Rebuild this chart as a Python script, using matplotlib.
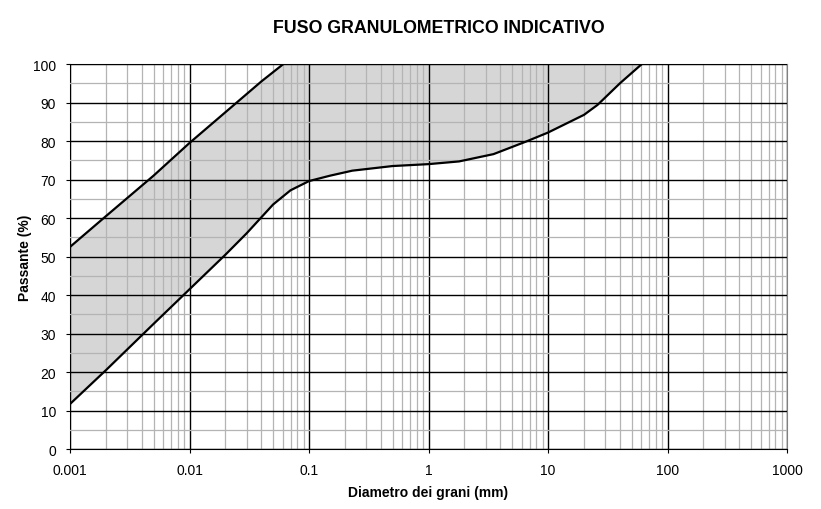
import matplotlib.pyplot as plt
import numpy as np

# upper limit of the band (diameter mm, passing %)
d_up = [0.001, 0.002, 0.005, 0.01, 0.02, 0.04, 0.061]
p_up = [52.5, 60.5, 71, 79.5, 87.5, 95.5, 100]

# lower limit of the band
d_lo = [0.001, 0.002, 0.005, 0.01, 0.02, 0.03, 0.05, 0.07, 0.1, 0.15, 0.23, 0.5, 1, 1.8,
        3.5, 6.6, 10, 20, 26, 40, 61]
p_lo = [11.7, 20.5, 32.5, 41.5, 50.5, 56, 63.5, 67.2, 69.6, 71, 72.3, 73.5, 74, 74.7,
        76.6, 79.9, 82.2, 86.8, 89.4, 95, 100]

plt.rcParams['font.family'] = ['Liberation Sans', 'DejaVu Sans']

fig = plt.figure(figsize=(8.21, 5.10), dpi=100)
ax = fig.add_axes([0.0853, 0.1176, 0.8733, 0.7549])

ax.set_xscale('log')
ax.set_xlim(0.001, 1000)
ax.set_ylim(0, 100)

# shaded band
xs = np.logspace(-3, np.log10(61), 400)
lo = np.interp(np.log10(xs), np.log10(d_lo), p_lo)
up = np.interp(np.log10(xs), np.log10(d_up), p_up, right=100)
ax.fill_between(xs, lo, np.minimum(up, 100), facecolor='#d6d6d6', edgecolor='none', zorder=1)

# grid
ax.set_yticks(np.arange(0, 101, 10))
ax.set_yticks(np.arange(5, 100, 10), minor=True)
ax.grid(True, which='minor', color='#b4b4b4', linewidth=0.9, zorder=2)
ax.grid(True, which='major', color='black', linewidth=1.0, zorder=2)
ax.set_axisbelow(False)

ax.plot(d_up, p_up, color='black', linewidth=1.6, zorder=3)
ax.plot(d_lo, p_lo, color='black', linewidth=1.6, zorder=3)

for s in ['top', 'right', 'left']:
    ax.spines[s].set_color('#808080')
ax.spines['bottom'].set_color('black')

ax.set_xticks([0.001, 0.01, 0.1, 1, 10, 100, 1000])
ax.set_xticklabels(['0.001', '0.01', '0.1', '1', '10', '100', '1000'])
ax.tick_params(which='major', length=3, labelsize=10, pad=7)
ax.tick_params(which='minor', length=0)

ax.set_xlabel('Diametro dei grani (mm)', fontsize=10, fontweight='bold', labelpad=6)
ax.set_ylabel('Passante (%)', fontsize=10, fontweight='bold', labelpad=1)
fig.text(0.534, 0.945, 'FUSO GRANULOMETRICO INDICATIVO', ha='center', va='center',
         fontsize=12.8, fontweight='bold')

fig.savefig('out.png', dpi=100)
